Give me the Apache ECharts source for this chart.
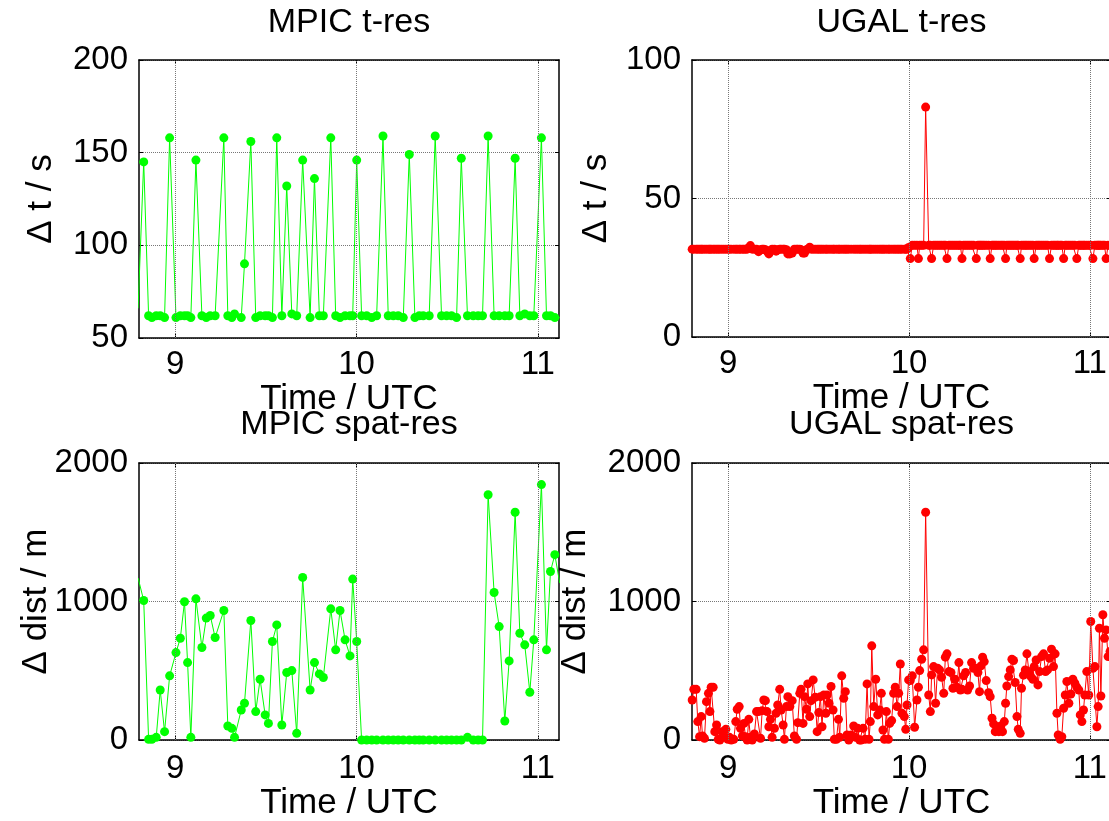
<!DOCTYPE html>
<html>
<head>
<meta charset="utf-8">
<title>MPIC / UGAL resolution</title>
<style>
  html, body { margin: 0; padding: 0; background: #fff; }
  #chart { width: 1109px; height: 821px; }
</style>
<script src="https://cdn.jsdelivr.net/npm/echarts@6/dist/echarts.min.js"></script>
</head>
<body>
<div id="chart"></div>
<script>
// x range in UTC hours, tick positions
const xMin = 8.8;
const xMax = 11.117;
const xTicks = [9, 10, 11];

// MPIC measurement times (UTC hours)
const mpicTime = [8.795, 8.826, 8.853, 8.871, 8.895, 8.917, 8.941, 8.969, 9.004, 9.028,
  9.051, 9.068, 9.086, 9.114, 9.147, 9.171, 9.193, 9.220, 9.268, 9.290,
  9.312, 9.327, 9.364, 9.382, 9.417, 9.444, 9.468, 9.496, 9.514, 9.536,
  9.560, 9.588, 9.615, 9.643, 9.670, 9.703, 9.744, 9.768, 9.795, 9.817,
  9.858, 9.885, 9.909, 9.937, 9.964, 9.979, 10.001, 10.028, 10.056, 10.084,
  10.111, 10.146, 10.175, 10.203, 10.230, 10.258, 10.291, 10.322, 10.346, 10.368,
  10.401, 10.434, 10.469, 10.497, 10.524, 10.552, 10.578, 10.612, 10.644, 10.671,
  10.695, 10.726, 10.759, 10.787, 10.818, 10.842, 10.875, 10.901, 10.928, 10.956,
  10.978, 11.020, 11.048, 11.070, 11.094, 11.121];

// MPIC time resolution, s
const mpicTres = [66, 145, 62, 61, 62, 62, 61, 158, 61, 62,
  62, 62, 61, 146, 62, 61, 62, 62, 158, 62,
  61, 63, 61, 90, 156, 61, 62, 62, 62, 61,
  158, 62, 132, 63, 62, 146, 61, 136, 62, 62,
  158, 62, 61, 62, 62, 62, 146, 62, 62, 61,
  62, 159, 62, 62, 62, 61, 149, 61, 62, 62,
  62, 159, 62, 62, 62, 61, 147, 62, 62, 62,
  62, 159, 62, 62, 62, 62, 147, 62, 63, 62,
  62, 158, 62, 62, 61, 61];

// MPIC spatial resolution, m
const mpicSpat = [1170, 1007, 5, 5, 19, 361, 60, 463, 631, 735,
  998, 559, 19, 1019, 668, 880, 899, 740, 935, 101,
  84, 19, 217, 265, 863, 205, 439, 181, 120, 711,
  831, 108, 487, 501, 48, 1174, 361, 559, 477, 451,
  947, 651, 935, 723, 607, 1162, 711, 0, 0, 0,
  0, 0, 0, 0, 0, 0, 0, 0, 0, 0,
  0, 0, 0, 0, 0, 0, 0, 19, 0, 0,
  0, 1771, 1065, 819, 137, 571, 1644, 771, 687, 345,
  723, 1844, 651, 1217, 1338, 1133];

// UGAL measurement times (UTC hours)
const ugalTime = [8.801, 8.810, 8.823, 8.832, 8.842, 8.851, 8.858, 8.869, 8.880, 8.891,
  8.899, 8.906, 8.917, 8.926, 8.936, 8.945, 8.954, 8.965, 8.976, 8.987,
  8.998, 9.007, 9.017, 9.031, 9.042, 9.050, 9.061, 9.068, 9.079, 9.087,
  9.096, 9.105, 9.114, 9.123, 9.133, 9.145, 9.157, 9.168, 9.179, 9.188,
  9.197, 9.206, 9.215, 9.225, 9.234, 9.243, 9.256, 9.265, 9.274, 9.285,
  9.293, 9.304, 9.311, 9.322, 9.330, 9.341, 9.354, 9.366, 9.378, 9.385,
  9.396, 9.403, 9.414, 9.422, 9.433, 9.440, 9.451, 9.459, 9.470, 9.481,
  9.492, 9.501, 9.510, 9.519, 9.529, 9.540, 9.547, 9.558, 9.569, 9.580,
  9.587, 9.599, 9.610, 9.617, 9.628, 9.639, 9.648, 9.657, 9.667, 9.680,
  9.694, 9.705, 9.716, 9.727, 9.735, 9.746, 9.757, 9.768, 9.779, 9.786,
  9.794, 9.805, 9.816, 9.827, 9.838, 9.847, 9.856, 9.864, 9.875, 9.886,
  9.893, 9.904, 9.915, 9.924, 9.934, 9.943, 9.952, 9.961, 9.974, 9.982,
  9.989, 9.998, 10.007, 10.018, 10.031, 10.044, 10.052, 10.059, 10.070, 10.081,
  10.092, 10.109, 10.118, 10.125, 10.136, 10.147, 10.158, 10.169, 10.180,
  10.192, 10.201, 10.210, 10.221, 10.232, 10.243, 10.254, 10.265, 10.276, 10.284,
  10.293, 10.302, 10.313, 10.324, 10.335, 10.346, 10.357, 10.372, 10.381, 10.390,
  10.398, 10.407, 10.416, 10.427, 10.440, 10.449, 10.459, 10.468, 10.477,
  10.486, 10.497, 10.508, 10.517, 10.527, 10.534, 10.541, 10.551, 10.560, 10.569,
  10.578, 10.587, 10.597, 10.604, 10.615, 10.622, 10.633, 10.643, 10.652, 10.663,
  10.674, 10.685, 10.692, 10.703, 10.713, 10.722, 10.733, 10.744, 10.755, 10.766,
  10.777, 10.788, 10.799, 10.808, 10.818, 10.825, 10.836, 10.845, 10.855, 10.864,
  10.873, 10.884, 10.895, 10.906, 10.917, 10.928, 10.939, 10.947, 10.956, 10.965,
  10.972, 10.983, 10.994, 11.005, 11.017, 11.028, 11.039, 11.046, 11.053, 11.061,
  11.072, 11.081, 11.090, 11.101, 11.112];

// UGAL time resolution, s
const ugalTres = [31.7, 31.7, 31.7, 31.7, 31.7, 31.7, 31.7, 31.7, 31.7, 31.7,
  31.7, 31.7, 31.7, 31.7, 31.7, 31.7, 31.7, 31.7, 31.7, 31.7,
  31.7, 31.7, 31.7, 31.7, 31.7, 31.7, 31.7, 31.7, 31.7, 31.7,
  31.7, 31.7, 32.2, 33.0, 31.7, 31.7, 31.7, 30.8, 31.5, 31.7,
  31.7, 31.5, 31.0, 30.0, 31.2, 31.7, 31.7, 31.0, 31.5, 31.7,
  31.7, 31.7, 31.7, 31.5, 30.0, 30.0, 30.3, 31.7, 31.7, 31.7,
  31.7, 31.5, 30.3, 30.3, 31.5, 31.7, 32.4, 31.7, 31.7, 31.7,
  31.7, 31.7, 31.7, 31.7, 31.7, 31.7, 31.7, 31.7, 31.7, 31.7,
  31.7, 31.7, 31.7, 31.7, 31.7, 31.7, 31.7, 31.7, 31.7, 31.7,
  31.7, 31.7, 31.7, 31.7, 31.7, 31.7, 31.7, 31.7, 31.7, 31.7,
  31.7, 31.7, 31.7, 31.7, 31.7, 31.7, 31.7, 31.7, 31.7, 31.7,
  31.7, 31.7, 31.7, 31.7, 31.7, 31.7, 31.7, 31.7, 31.7, 31.7,
  31.7, 32.3, 28.3, 33.1, 33.1, 33.1, 28.3, 33.1, 33.1, 33.1,
  83.0, 33.1, 33.1, 28.3, 33.1, 33.1, 33.1, 33.1, 33.1,
  33.1, 33.1, 28.3, 33.1, 33.1, 33.1, 33.1, 33.1, 33.1, 33.1,
  28.3, 33.1, 33.1, 33.1, 33.1, 33.1, 33.1, 28.3, 33.1, 33.1,
  33.1, 33.1, 33.1, 33.1, 33.1, 28.3, 33.1, 33.1, 33.1,
  33.1, 33.1, 33.1, 33.1, 33.1, 28.3, 33.1, 33.1, 33.1, 33.1,
  33.1, 33.1, 33.1, 33.1, 28.3, 33.1, 33.1, 33.1, 33.1, 33.1,
  33.1, 33.1, 28.3, 33.1, 33.1, 33.1, 33.1, 33.1, 33.1, 33.1,
  28.3, 33.1, 33.1, 33.1, 33.1, 33.1, 33.1, 33.1, 28.3, 33.1,
  33.1, 33.1, 33.1, 33.1, 33.1, 28.3, 33.1, 33.1, 33.1, 33.1,
  33.1, 33.1, 33.1, 33.1, 28.3, 33.1, 33.1, 33.1, 33.1, 33.1,
  33.1, 33.1, 28.3, 33.1, 33.1];

// UGAL spatial resolution, m
const ugalSpat = [289, 366, 366, 133, 24, 169, 29, 12, 277, 337,
  205, 381, 381, 60, 108, 5, 0, 60, 24, 77,
  5, 19, 0, 5, 133, 222, 241, 84, 29, 120,
  24, 0, 149, 19, 0, 43, 205, 205, 12, 212,
  289, 284, 205, 96, 149, 19, 84, 193, 253, 366,
  217, 108, 5, 241, 313, 241, 284, 29, 5, 125,
  337, 366, 120, 313, 222, 405, 169, 284, 434, 308,
  60, 198, 313, 96, 325, 193, 325, 265, 386, 217,
  5, 5, 149, 19, 463, 301, 349, 36, 0, 36,
  101, 19, 84, 0, 0, 84, 5, 405, 5, 133,
  680, 241, 439, 181, 217, 337, 72, 5, 205, 5,
  120, 140, 337, 381, 241, 337, 549, 193, 169, 77,
  253, 434, 429, 463, 92, 289, 381, 501, 583, 651,
  1644, 325, 205, 470, 530, 265, 518, 506, 453,
  337, 598, 622, 494, 487, 374, 439, 381, 559, 361,
  366, 463, 487, 361, 390, 559, 518, 518, 487, 349,
  535, 598, 566, 429, 342, 313, 157, 116, 60,
  96, 60, 101, 60, 133, 265, 390, 458, 506, 583,
  574, 415, 169, 77, 48, 374, 468, 506, 622, 494,
  458, 439, 530, 578, 398, 494, 602, 622, 494, 506,
  590, 656, 530, 622, 193, 36, 5, 24, 229, 325,
  422, 265, 332, 439, 410, 381, 361, 181, 133, 217,
  325, 494, 325, 856, 518, 530, 96, 241, 807, 318,
  904, 735, 795, 602, 640];

const FONT = 'Liberation Sans, Arial, Helvetica, sans-serif';
const GREEN = '#00ff00';
const RED = '#ff0000';

const panels = [
  { title: 'MPIC t-res', yName: 'Δ t / s', time: mpicTime, values: mpicTres, color: GREEN,
    yMin: 50, yMax: 200, yStep: 50, box: [139, 60, 420, 278], titleY: 23, yNameGap: 80, xNameGap: 44, labelMargin: 10 },
  { title: 'UGAL t-res', yName: 'Δ t / s', time: ugalTime, values: ugalTres, color: RED,
    yMin: 0, yMax: 100, yStep: 50, box: [692, 60, 419, 277], titleY: 23, yNameGap: 78, xNameGap: 44, labelMargin: 10 },
  { title: 'MPIC spat-res', yName: 'Δ dist / m', time: mpicTime, values: mpicSpat, color: GREEN,
    yMin: 0, yMax: 2000, yStep: 1000, box: [139, 463, 420, 277], titleY: 425, yNameGap: 85, xNameGap: 46, labelMargin: 12 },
  { title: 'UGAL spat-res', yName: 'Δ dist / m', time: ugalTime, values: ugalSpat, color: RED,
    yMin: 0, yMax: 2000, yStep: 1000, box: [692, 463, 419, 277], titleY: 425, yNameGap: 99, xNameGap: 46, labelMargin: 12 }
];

const axisLine = { show: true, onZero: false, lineStyle: { color: '#000', width: 1.5 } };
const gridLine = { color: '#777', width: 1, type: [1, 1] };
const plain = v => String(v);

const grids = [], xAxes = [], yAxes = [], series = [], texts = [];

panels.forEach((p, i) => {
  grids.push({ left: p.box[0], top: p.box[1], width: p.box[2], height: p.box[3],
    outerBoundsMode: 'none', containLabel: false });

  // bottom axis with labels, top axis as the box edge
  xAxes.push({
    gridIndex: i, type: 'value', position: 'bottom', min: xMin, max: xMax,
    axisLine,
    axisTick: { inside: true, length: 4, customValues: xTicks, lineStyle: { color: '#000' } },
    axisLabel: { customValues: xTicks, formatter: plain, fontSize: 33, fontFamily: FONT, color: '#000', margin: p.labelMargin },
    splitLine: { show: false },
    name: 'Time / UTC', nameLocation: 'middle', nameGap: p.xNameGap, nameMoveOverlap: false,
    nameTextStyle: { fontSize: 35, fontFamily: FONT, color: '#000' }
  });
  xAxes.push({
    gridIndex: i, type: 'value', position: 'top', min: xMin, max: xMax,
    axisLine,
    axisTick: { inside: true, length: 4, customValues: xTicks, lineStyle: { color: '#000' } },
    axisLabel: { show: false },
    splitLine: { show: false }
  });

  yAxes.push({
    gridIndex: i, type: 'value', position: 'left', min: p.yMin, max: p.yMax, interval: p.yStep,
    axisLine,
    axisTick: { inside: true, length: 4, lineStyle: { color: '#000' } },
    axisLabel: { formatter: plain, fontSize: 33, fontFamily: FONT, color: '#000', margin: 11 },
    splitLine: { show: true, lineStyle: gridLine },
    name: p.yName, nameLocation: 'middle', nameGap: p.yNameGap, nameMoveOverlap: false,
    nameTextStyle: { fontSize: 35, fontFamily: FONT, color: '#000' }
  });
  yAxes.push({
    gridIndex: i, type: 'value', position: 'right', min: p.yMin, max: p.yMax, interval: p.yStep,
    axisLine,
    axisTick: { inside: true, length: 4, lineStyle: { color: '#000' } },
    axisLabel: { show: false },
    splitLine: { show: false }
  });

  // vertical grid lines at the time ticks
  series.push({
    type: 'line', xAxisIndex: 2 * i, yAxisIndex: 2 * i, data: [], silent: true, z: 1,
    markLine: {
      silent: true, symbol: ['none', 'none'], label: { show: false },
      lineStyle: gridLine, emphasis: { disabled: true }, animation: false,
      data: xTicks.map(v => ({ xAxis: v }))
    }
  });

  series.push({
    type: 'line', xAxisIndex: 2 * i, yAxisIndex: 2 * i, z: 3,
    data: p.time.map((t, k) => [t, p.values[k]]),
    symbol: 'circle', symbolSize: 9, showSymbol: true, clip: true,
    lineStyle: { color: p.color, width: 1 },
    itemStyle: { color: p.color, borderWidth: 0 },
    emphasis: { disabled: true }, animation: false
  });

  texts.push({
    type: 'text', x: p.box[0] + p.box[2] / 2, y: p.titleY, silent: true,
    style: { text: p.title, fontSize: 34, fontFamily: FONT, fill: '#000', align: 'center', verticalAlign: 'middle' }
  });
});

const chart = echarts.init(document.getElementById('chart'), null, { renderer: 'canvas' });
chart.setOption({
  backgroundColor: '#fff',
  animation: false,
  grid: grids,
  xAxis: xAxes,
  yAxis: yAxes,
  series: series,
  graphic: texts
});
</script>
</body>
</html>
